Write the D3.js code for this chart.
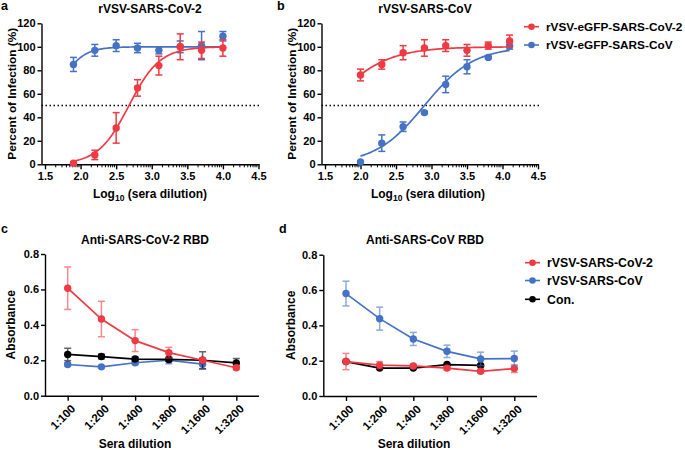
<!DOCTYPE html>
<html><head><meta charset="utf-8">
<script src="https://cdn.jsdelivr.net/npm/d3@7"></script>
<style>
body{margin:0;background:#fff;}
svg{font-family:"Liberation Sans",Arial,sans-serif;font-weight:bold;}
</style></head>
<body><svg id="c" width="685" height="450"></svg>
<script>
// ---------- DATA ----------
const RED = "#ee3a43", BLUE = "#4472c4", BLACK = "#000000";

// Panel a: rVSV-SARS-CoV-2
const aX = [1.9, 2.2, 2.5, 2.8, 3.1, 3.4, 3.7, 4.0];
const aRed = [1, 8, 31, 65, 84, 100, 97, 99];
const aRedErr = [1, 4, 13, 7, 8, 11, 7, 7];
const aBlue = [85, 97, 101, 99, 97, 100, 101, 109];
const aBlueErr = [6, 5, 5, 4, 3, 5, 12, 4];
// 4PL fit parameters [bottom, top, logIC50, hill]
const aRedFit = [0, 100, 2.68, 2.0];
const aBlueFit = [0, 100, 1.6, 2.5];

// Panel b: rVSV-SARS-CoV
const bX = [2.0, 2.3, 2.6, 2.9, 3.2, 3.5, 3.8, 4.1];
const bRed = [76, 85, 95, 99, 101, 97, 101, 105];
const bRedErr = [5, 4, 6, 7, 5, 5, 3, 5];
const bBlue = [2, 18, 32, 44, 68, 83, 91, 101];
const bBlueErr = [0, 7, 4, 1, 7, 6, 1, 3];
const bRedFit = [0, 100, 1.54, 1.1];
const bBlueFit = [0, 100, 2.9, 1.25];

const xTicksAB = [1.5, 2.0, 2.5, 3.0, 3.5, 4.0, 4.5];
const yTicksAB = [0, 20, 40, 60, 80, 100, 120];

// Panels c, d: ELISA
const dilutions = ["1:100", "1:200", "1:400", "1:800", "1:1600", "1:3200"];
const cRed = [0.607, 0.433, 0.311, 0.243, 0.200, 0.158];
const cRedErr = [0.12, 0.10, 0.062, 0.03, 0.012, 0.01];
const cBlue = [0.176, 0.163, 0.186, 0.200, 0.178, null];
const cBlueErr = [0.01, 0.006, 0.01, 0.02, 0.028, null];
const cBlack = [0.233, 0.221, 0.207, 0.205, 0.200, 0.185];
const cBlackErr = [0.035, 0.013, 0.011, 0.01, 0.048, 0.025];

const dBlue = [0.580, 0.438, 0.323, 0.253, 0.210, 0.212];
const dBlueErr = [0.07, 0.065, 0.037, 0.035, 0.038, 0.042];
const dRed = [0.195, 0.175, 0.170, 0.158, 0.140, 0.155];
const dRedErr = [0.046, 0.02, 0.01, 0.01, 0.01, 0.022];
const dBlack = [0.195, 0.158, 0.158, 0.178, 0.173, null];
const dBlackErr = [0.005, 0.005, 0.005, 0.005, 0.005, null];

const yTicksCD = [0, 0.2, 0.4, 0.6, 0.8];

const legendTop = [["rVSV-eGFP-SARS-CoV-2", RED], ["rVSV-eGFP-SARS-CoV", BLUE]];
const legendBottom = [["rVSV-SARS-CoV-2", RED], ["rVSV-SARS-CoV", BLUE], ["Con.", BLACK]];

// ---------- DRAW ----------
const svg = d3.select("#c");
const fourPL = (p, x) => p[0] + (p[1] - p[0]) / (1 + Math.pow(10, (p[2] - x) * p[3]));

function errorBars(g, xs, ys, es, x, y, color, op) {
  xs.forEach((xv, i) => {
    if (ys[i] == null || !es[i]) return;
    const cx = x(xv), y1 = y(ys[i] - es[i]), y2 = y(ys[i] + es[i]);
    const eg = g.append("g").attr("stroke", color).attr("stroke-width", 1.5).attr("opacity", op);
    eg.append("line").attr("x1", cx).attr("x2", cx).attr("y1", y1).attr("y2", y2);
    eg.append("line").attr("x1", cx - 3.5).attr("x2", cx + 3.5).attr("y1", y1).attr("y2", y1);
    eg.append("line").attr("x1", cx - 3.5).attr("x2", cx + 3.5).attr("y1", y2).attr("y2", y2);
  });
}
function points(g, xs, ys, x, y, color) {
  xs.forEach((xv, i) => {
    if (ys[i] == null) return;
    g.append("circle").attr("cx", x(xv)).attr("cy", y(ys[i])).attr("r", 3.7).attr("fill", color);
  });
}
function text(g, s, x, y, size, anchor) {
  return g.append("text").attr("x", x).attr("y", y).attr("font-size", size)
    .attr("text-anchor", anchor || "middle").text(s);
}
function styleAxis(a, fs) {
  a.selectAll("path,line").attr("stroke", "#000").attr("stroke-width", 1.4);
  a.selectAll("text").attr("font-size", fs).attr("font-weight", "bold").attr("fill", "#000")
    .attr("font-family", "Liberation Sans, Arial, sans-serif");
}

function panelAB(o) {
  const g = svg.append("g");
  const x = d3.scaleLinear().domain([1.5, 4.5]).range([o.x0, o.x1]);
  const y = d3.scaleLinear().domain([0, 120]).range([o.yb, o.yt]);
  const axL = o.x0 - 3.5;
  const ya = g.append("g").attr("transform", `translate(${axL},0)`)
    .call(d3.axisLeft(y).tickValues(yTicksAB).tickSize(4).tickPadding(2).tickSizeOuter(0));
  const xa = g.append("g").attr("transform", `translate(0,${o.yb})`)
    .call(d3.axisBottom(x).tickValues(xTicksAB).tickFormat(d3.format(".1f")).tickSize(5).tickPadding(3).tickSizeOuter(0));
  xa.select(".domain").attr("d", `M${axL},0.5H${o.x1 + 1}`);
  const minor = [];
  for (let s = 1.5; s < 4.5; s += 0.5) for (let k = 2; k <= 9; k++) minor.push(s + 0.5 * Math.log10(k));
  xa.selectAll(".mt").data(minor).join("line").attr("class", "mt")
    .attr("x1", d => x(d)).attr("x2", d => x(d)).attr("y1", 0).attr("y2", 3);
  styleAxis(ya, 11); styleAxis(xa, 11);
  xa.selectAll(".mt").attr("stroke-width", 1);
  g.append("line").attr("x1", axL).attr("x2", o.x1 + 2).attr("y1", y(50)).attr("y2", y(50))
    .attr("stroke", "#000").attr("stroke-width", 1.4).attr("stroke-dasharray", "1.5,2.5");
  o.series.forEach(s => {
    const xs = s.x, grid = d3.range(0, 101).map(i => xs[0] + (xs[xs.length - 1] - xs[0]) * i / 100);
    g.append("path").attr("d", d3.line().x(d => x(d)).y(d => y(fourPL(s.fit, d)))(grid))
      .attr("fill", "none").attr("stroke", s.color).attr("stroke-width", 1.7);
    errorBars(g, xs, s.y, s.e, x, y, s.color, 1);
    points(g, xs, s.y, x, y, s.color);
  });
  text(g, o.letter, o.lx, 10, 12.5, "start");
  text(g, o.title, o.tx, 13, 12);
  text(g, "Percent of Infection (%)", 0, 0, 11.8).attr("transform", `translate(${o.ytx},${(o.yt + o.yb) / 2}) rotate(-90)`);
  const xt = g.append("text").attr("x", o.xtx).attr("y", 198).attr("font-size", 12).attr("text-anchor", "middle");
  xt.append("tspan").text("Log");
  xt.append("tspan").text("10").attr("font-size", 8.5).attr("dy", 3);
  xt.append("tspan").text(" (sera dilution)").attr("dy", -3);
}

function panelCD(o) {
  const g = svg.append("g");
  const x = d3.scalePoint().domain(dilutions).range([o.x0 + 22.7, o.x1 - 22.7]);
  const y = d3.scaleLinear().domain([0, 0.8]).range([o.yb, o.yt]);
  const ya = g.append("g").attr("transform", `translate(${o.x0},0)`)
    .call(d3.axisLeft(y).tickValues(yTicksCD).tickFormat(d3.format(".1f")).tickSize(4).tickPadding(2).tickSizeOuter(0));
  const xa = g.append("g").attr("transform", `translate(0,${o.yb})`)
    .call(d3.axisBottom(x).tickSize(5).tickSizeOuter(0));
  xa.select(".domain").attr("d", `M${o.x0},0.5H${o.x1}`);
  xa.selectAll(".tick text").attr("text-anchor", "end").attr("dy", "0.35em").attr("y", 0)
    .attr("transform", "translate(5,11) rotate(-45)");
  styleAxis(ya, 11); styleAxis(xa, 11.5);
  o.series.forEach(s => {
    const pts = dilutions.map((d, i) => [d, s.y[i]]).filter(p => p[1] != null);
    g.append("path").attr("d", d3.line().x(p => x(p[0])).y(p => y(p[1]))(pts))
      .attr("fill", "none").attr("stroke", s.color).attr("stroke-width", 1.7);
    errorBars(g, dilutions, s.y, s.e, x, y, s.color, 0.6);
    points(g, dilutions, s.y, x, y, s.color);
  });
  text(g, o.letter, o.lx, 233, 12.5, "start");
  text(g, o.title, o.tx, 244, 12);
  text(g, "Absorbance", 0, 0, 12).attr("transform", `translate(${o.ytx},${(o.yt + o.yb) / 2}) rotate(-90)`);
  text(g, "Sera dilution", o.xtx, 448, 12);
}

panelAB({x0: 45, x1: 258.5, yb: 164.3, yt: 23.3, letter: "a", lx: 1, title: "rVSV-SARS-CoV-2", tx: 150, ytx: 16, xtx: 150,
  series: [
    {x: aX, y: aBlue, e: aBlueErr, fit: aBlueFit, color: BLUE},
    {x: aX, y: aRed, e: aRedErr, fit: aRedFit, color: RED}
  ]});
panelAB({x0: 325, x1: 538, yb: 164.3, yt: 23.3, letter: "b", lx: 277, title: "rVSV-SARS-CoV", tx: 425, ytx: 296, xtx: 428,
  series: [
    {x: bX, y: bBlue, e: bBlueErr, fit: bBlueFit, color: BLUE},
    {x: bX, y: bRed, e: bRedErr, fit: bRedFit, color: RED}
  ]});
panelCD({x0: 45, x1: 259, yb: 395.7, yt: 254, letter: "c", lx: 1, title: "Anti-SARS-CoV-2 RBD", tx: 145, ytx: 15, xtx: 135,
  series: [
    {y: cBlue, e: cBlueErr, color: BLUE},
    {y: cBlack, e: cBlackErr, color: BLACK},
    {y: cRed, e: cRedErr, color: RED}
  ]});
panelCD({x0: 323.3, x1: 537, yb: 396, yt: 254.7, letter: "d", lx: 279, title: "Anti-SARS-CoV RBD", tx: 425, ytx: 295, xtx: 414,
  series: [
    {y: dBlack, e: dBlackErr, color: BLACK},
    {y: dRed, e: dRedErr, color: RED},
    {y: dBlue, e: dBlueErr, color: BLUE}
  ]});

function legend(items, x0, ys, fs) {
  const g = svg.append("g");
  items.forEach((it, i) => {
    g.append("line").attr("x1", x0).attr("x2", x0 + 15).attr("y1", ys[i]).attr("y2", ys[i])
      .attr("stroke", it[1]).attr("stroke-width", 1.6);
    g.append("circle").attr("cx", x0 + 7.5).attr("cy", ys[i]).attr("r", 3.3).attr("fill", it[1]);
    text(g, it[0], x0 + 22, ys[i] + 4.3, fs, "start");
  });
}
legend(legendTop, 524, [26.7, 45], 11.8);
legend(legendBottom, 525, [262.7, 280.5, 299.3], 12.3);
</script></body></html>
